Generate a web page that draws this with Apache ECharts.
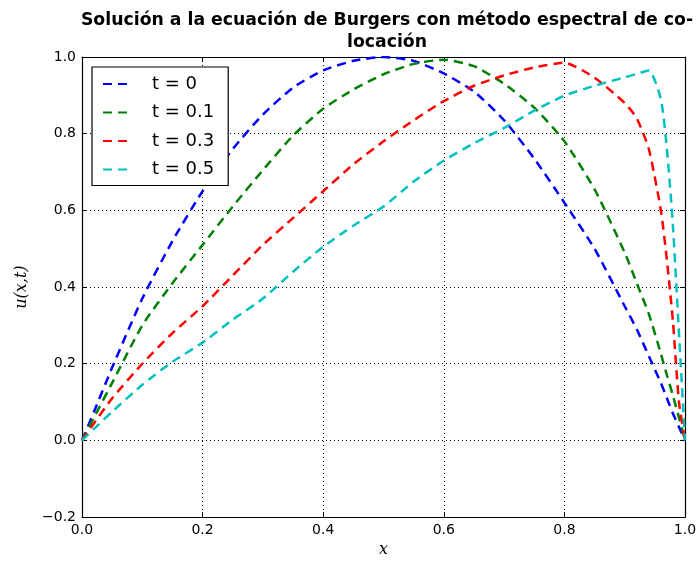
<!DOCTYPE html>
<html>
<head>
<meta charset="utf-8">
<script src="https://cdn.jsdelivr.net/npm/echarts@6/dist/echarts.min.js"></script>
<style>
  html, body { margin: 0; padding: 0; background: #fff; }
  #chart { width: 700px; height: 563px; }
</style>
</head>
<body>
<div id="chart"></div>
<script>
// collocation positions (x) and the curve values
const xs = [0, 0.02, 0.05, 0.1, 0.15, 0.2, 0.25, 0.3, 0.35, 0.4, 0.45, 0.5, 0.55, 0.6, 0.65,
            0.7, 0.75, 0.8, 0.85, 0.9, 0.92, 0.94, 0.96, 0.97, 0.98, 0.99, 1.0];
const uT0   = [0, 0.075, 0.19, 0.37, 0.52, 0.65, 0.76, 0.85, 0.92, 0.965, 0.99, 1.0, 0.99, 0.957, 0.91,
               0.835, 0.735, 0.62, 0.50, 0.35, 0.29, 0.22, 0.15, 0.11, 0.07, 0.035, 0];
const uT01  = [0, 0.06, 0.15, 0.30, 0.41, 0.51, 0.61, 0.705, 0.795, 0.865, 0.915, 0.955, 0.982, 0.993, 0.976,
               0.93, 0.868, 0.78, 0.655, 0.49, 0.41, 0.33, 0.226, 0.17, 0.117, 0.06, 0];
const uT03  = [0, 0.045, 0.11, 0.20, 0.28, 0.35, 0.43, 0.51, 0.58, 0.65, 0.72, 0.78, 0.835, 0.885, 0.925,
               0.952, 0.973, 0.985, 0.946, 0.88, 0.84, 0.76, 0.60, 0.47, 0.31, 0.10, 0];
const uT05  = [0, 0.03, 0.075, 0.145, 0.205, 0.255, 0.315, 0.37, 0.44, 0.505, 0.56, 0.61, 0.675, 0.73, 0.775,
               0.815, 0.86, 0.899, 0.925, 0.947, 0.956, 0.965, 0.89, 0.76, 0.56, 0.28, 0];

const names  = ['t = 0', 't = 0.1', 't = 0.3', 't = 0.5'];
const curves = [uT0, uT01, uT03, uT05];
const colors = ['#0000ff', '#008000', '#ff0000', '#00bfbf'];

const chart = echarts.init(document.getElementById('chart'));

const fmt = v => (v < 0 ? '\u2212' + Math.abs(v).toFixed(1) : v.toFixed(1));
const tickFont = { fontFamily: 'DejaVu Sans', fontSize: 14, color: '#000' };

const series = curves.map((ys, i) => ({
  name: names[i],
  type: 'line',
  symbol: 'none',
  smooth: 0.2,
  data: xs.map((x, j) => [x, ys[j]]),
  lineStyle: { color: colors[i], width: 2.5, type: [9, 6] },
  itemStyle: { color: colors[i] }
}));

const option = {
  backgroundColor: '#fff',
  animation: false,
  title: {
    text: 'Solución a la ecuación de Burgers con método espectral de co-\nlocación',
    left: 382, textAlign: 'center', top: 5,
    textStyle: { fontFamily: 'DejaVu Sans', fontWeight: 'bold', fontSize: 17.3, lineHeight: 22, color: '#000' }
  },
  legend: {
    left: 92, top: 67,
    orient: 'vertical',
    backgroundColor: '#fff',
    borderColor: '#000', borderWidth: 1.2, borderRadius: 0,
    padding: [6, 14, 5, 10],
    itemWidth: 30, itemHeight: 12, itemGap: 6.5,
    itemStyle: { color: 'transparent', borderWidth: 0 },
    data: names,
    textStyle: { fontFamily: 'DejaVu Sans', fontSize: 18, lineHeight: 22, color: '#000', padding: [0, 0, 0, 14] }
  },
  grid: { left: 82, right: 15, top: 57, bottom: 38 },
  xAxis: [{
    type: 'value', min: 0, max: 1, interval: 0.2,
    name: 'x', nameLocation: 'middle', nameGap: 20,
    nameTextStyle: { fontFamily: 'DejaVu Serif', fontStyle: 'italic', fontSize: 16, color: '#000' },
    axisLine: { show: true, onZero: false, lineStyle: { color: '#000', width: 1.2 } },
    axisTick: { show: true, inside: true, length: 5, lineStyle: { color: '#000' } },
    axisLabel: Object.assign({ formatter: fmt, margin: 6 }, tickFont),
    splitLine: { show: true, lineStyle: { color: '#000', type: [1, 3], width: 1 } }
  }, {
    type: 'value', min: 0, max: 1, interval: 0.2, position: 'top',
    axisLine: { show: true, onZero: false, lineStyle: { color: '#000', width: 1.2 } },
    axisTick: { show: true, inside: true, length: 5, lineStyle: { color: '#000' } },
    axisLabel: { show: false }, splitLine: { show: false }
  }],
  yAxis: [{
    type: 'value', min: -0.2, max: 1.0, interval: 0.2,
    name: 'u(x,t)', nameLocation: 'middle', nameGap: 52, nameRotate: 90,
    nameTextStyle: { fontFamily: 'DejaVu Serif', fontStyle: 'italic', fontSize: 16, color: '#000' },
    axisLine: { show: true, onZero: false, lineStyle: { color: '#000', width: 1.2 } },
    axisTick: { show: true, inside: true, length: 5, lineStyle: { color: '#000' } },
    axisLabel: Object.assign({ formatter: fmt, margin: 6 }, tickFont),
    splitLine: { show: true, lineStyle: { color: '#000', type: [1, 3], width: 1 } }
  }, {
    type: 'value', min: -0.2, max: 1.0, interval: 0.2, position: 'right',
    axisLine: { show: true, onZero: false, lineStyle: { color: '#000', width: 1.2 } },
    axisTick: { show: true, inside: true, length: 5, lineStyle: { color: '#000' } },
    axisLabel: { show: false }, splitLine: { show: false }
  }],
  series: series
};

chart.setOption(option);
</script>
</body>
</html>
